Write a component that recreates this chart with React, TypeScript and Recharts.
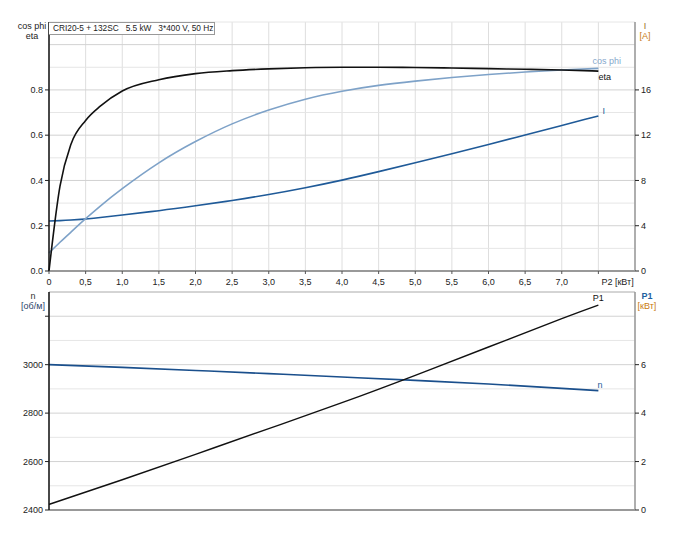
import React from 'react';
import { LineChart, Line, XAxis, YAxis, CartesianGrid, ReferenceLine, ReferenceDot } from 'recharts';

// P2 [kW] sample points, upper chart
const p2Top = [0, 0.15, 0.3, 0.5, 0.7, 1.0, 1.5, 2.0, 2.5, 3.0, 3.5, 4.0, 4.5, 5.0, 5.5, 6.0, 6.5, 7.0, 7.5];
const eta = [0, 0.375, 0.56, 0.665, 0.728, 0.795, 0.845, 0.872, 0.885, 0.893, 0.898, 0.9, 0.9, 0.899, 0.897, 0.894, 0.891, 0.888, 0.883];
const cosPhi = [0.08, 0.127, 0.172, 0.231, 0.287, 0.364, 0.478, 0.572, 0.65, 0.711, 0.759, 0.794, 0.82, 0.839, 0.855, 0.868, 0.879, 0.888, 0.895];
const current = [4.42, 4.45, 4.5, 4.6, 4.72, 4.95, 5.33, 5.76, 6.23, 6.76, 7.36, 8.03, 8.78, 9.56, 10.36, 11.18, 12.02, 12.86, 13.7];

// lower chart
const p2Bottom = [0, 1, 2, 3, 4, 5, 6, 7, 7.5];
const speed = [3000, 2989, 2976, 2963, 2949, 2935, 2920, 2902, 2893];
const p1 = [0.23, 1.25, 2.3, 3.36, 4.43, 5.56, 6.73, 7.9, 8.46];

const xTicksTop = [0, 0.5, 1, 1.5, 2, 2.5, 3, 3.5, 4, 4.5, 5, 5.5, 6, 6.5, 7, 7.5];
const xTickLabels = ['0', '0,5', '1,0', '1,5', '2,0', '2,5', '3,0', '3,5', '4,0', '4,5', '5,0', '5,5', '6,0', '6,5', '7,0', 'P2 [кВт]'];
const xTicksBottom = [0, 1, 2, 3, 4, 5, 6, 7];
const effTicks = [0, 0.2, 0.4, 0.6, 0.8];
const effGrid = [0.1, 0.2, 0.3, 0.4, 0.5, 0.6, 0.7, 0.8, 0.9, 1.0, 1.1];
const currentTicks = [0, 4, 8, 12, 16];
const speedTicks = [2400, 2600, 2800, 3000, 3200];
const speedGrid = [2500, 2600, 2700, 2800, 2900, 3000, 3100, 3200, 3300];
const p1Ticks = [0, 2, 4, 6];

const FONT = '"Liberation Sans", Arial, sans-serif';
const TXT = '#222';

const topData = p2Top.map((x, i) => ({ x, eta: eta[i], cosPhi: cosPhi[i], current: current[i] }));
const bottomData = p2Bottom.map((x, i) => ({ x, speed: speed[i], p1: p1[i] }));

const XTick = (props: any) => {
  const { x, y, payload, index } = props;
  const last = index === xTicksTop.length - 1;
  return (
    <text x={last ? x + 3 : x} y={y + 9} textAnchor={last ? 'start' : 'middle'} fontSize={9} fill={TXT} fontFamily={FONT}>
      {xTickLabels[xTicksTop.indexOf(payload.value)]}
    </text>
  );
};

const endLabel = (text: string, color: string, dx: number, dy: number, anchor = 'start') => (props: any) => {
  const vb = props.viewBox || {};
  const cx = (vb.x ?? 0) + (vb.width ?? 0) / 2;
  const cy = (vb.y ?? 0) + (vb.height ?? 0) / 2;
  return (
    <text x={cx + dx} y={cy + dy} fontSize={9} fill={color} fontFamily={FONT} textAnchor={anchor}>
      {text}
    </text>
  );
};

const last = (a: number[]) => a[a.length - 1];

export default function App() {
  return (
    <div style={{ position: 'absolute', left: 0, top: 0, width: 677, height: 542, background: '#fff', fontFamily: FONT }}>
      <LineChart width={677} height={290} data={topData} margin={{ top: 22, right: 12, bottom: 0, left: 19 }}>
        <CartesianGrid horizontal={false} stroke="#dedede" />
        {effGrid.map((v) => (
          <ReferenceLine key={v} yAxisId="eff" y={v} stroke={Math.round(v * 10) % 2 === 0 ? '#d2d2d2' : '#e6e6e6'} />
        ))}
        <XAxis
          dataKey="x"
          type="number"
          domain={[0, 8]}
          ticks={xTicksTop}
          interval={0}
          height={19}
          tick={<XTick />}
          tickSize={3}
          tickLine={{ stroke: '#555' }}
          axisLine={{ stroke: '#999', strokeWidth: 2 }}
        />
        <YAxis
          yAxisId="eff"
          domain={[0, 1.1]}
          ticks={effTicks}
          width={30}
          tickSize={4}
          tickFormatter={(v: number) => v.toFixed(1)}
          tick={{ fontSize: 9, fill: TXT, fontFamily: FONT }}
          tickLine={{ stroke: '#222' }}
          axisLine={{ stroke: '#111', strokeWidth: 1.5 }}
        />
        <YAxis
          yAxisId="cur"
          orientation="right"
          domain={[0, 22]}
          ticks={currentTicks}
          width={30}
          tickSize={4}
          tick={{ fontSize: 9, fill: TXT, fontFamily: FONT, textAnchor: 'start' }}
          tickLine={{ stroke: '#222' }}
          axisLine={{ stroke: '#999', strokeWidth: 1.5 }}
        />
        <Line yAxisId="cur" dataKey="current" type="natural" stroke="#1f5a98" strokeWidth={1.6} dot={false} isAnimationActive={false} />
        <Line yAxisId="eff" dataKey="cosPhi" type="natural" stroke="#7ea2c8" strokeWidth={1.6} dot={false} isAnimationActive={false} />
        <Line yAxisId="eff" dataKey="eta" type="monotone" stroke="#111" strokeWidth={1.6} dot={false} isAnimationActive={false} />
        <ReferenceDot yAxisId="eff" x={last(p2Top)} y={last(cosPhi)} r={0} fill="none" stroke="none" label={endLabel('cos phi', '#86a8cc', -6, -4)} />
        <ReferenceDot yAxisId="eff" x={last(p2Top)} y={last(eta)} r={0} fill="none" stroke="none" label={endLabel('eta', '#111', 0, 9)} />
        <ReferenceDot yAxisId="cur" x={last(p2Top)} y={last(current)} r={0} fill="none" stroke="none" label={endLabel('I', '#2a5c9a', 4, -2)} />
      </LineChart>

      <div style={{ position: 'absolute', left: 0, top: 290 }}>
        <LineChart width={677} height={230} data={bottomData} margin={{ top: 2, right: 12, bottom: 9, left: 19 }}>
          <CartesianGrid horizontal={false} stroke="#dedede" />
          {speedGrid.map((v) => (
            <ReferenceLine key={v} yAxisId="n" y={v} stroke={v === 3300 ? '#aaa' : v % 200 === 0 ? '#d2d2d2' : '#e6e6e6'} />
          ))}
          <XAxis
            dataKey="x"
            type="number"
            domain={[0, 8]}
            ticks={xTicksBottom}
            interval={0}
            height={1}
            tick={false}
            tickLine={false}
            axisLine={{ stroke: '#999', strokeWidth: 2 }}
          />
          <YAxis
            yAxisId="n"
            domain={[2400, 3300]}
            ticks={speedTicks}
            width={30}
            tickSize={4}
            tickFormatter={(v: number) => (v === 3200 ? '' : String(v))}
            tick={{ fontSize: 9, fill: TXT, fontFamily: FONT }}
            tickLine={{ stroke: '#222' }}
            axisLine={{ stroke: '#111', strokeWidth: 1.5 }}
          />
          <YAxis
            yAxisId="p1"
            orientation="right"
            domain={[0, 9]}
            ticks={p1Ticks}
            width={30}
            tickSize={4}
            tick={{ fontSize: 9, fill: TXT, fontFamily: FONT, textAnchor: 'start' }}
            tickLine={{ stroke: '#222' }}
            axisLine={{ stroke: '#999', strokeWidth: 1.5 }}
          />
          <Line yAxisId="n" dataKey="speed" type="natural" stroke="#1a4f8c" strokeWidth={1.6} dot={false} isAnimationActive={false} />
          <Line yAxisId="p1" dataKey="p1" type="natural" stroke="#111" strokeWidth={1.4} dot={false} isAnimationActive={false} />
          <ReferenceDot yAxisId="p1" x={last(p2Bottom)} y={last(p1)} r={0} fill="none" stroke="none" label={endLabel('P1', '#111', 0, -4, 'middle')} />
          <ReferenceDot yAxisId="n" x={last(p2Bottom)} y={last(speed)} r={0} fill="none" stroke="none" label={endLabel('n', '#2a5c9a', -1, -3)} />
        </LineChart>
      </div>

      {/* header box */}
      <div
        style={{
          position: 'absolute', left: 49, top: 22, width: 166, height: 13, boxSizing: 'border-box',
          border: '1px solid #999', borderLeft: 'none', background: '#fff', fontSize: 8.3, lineHeight: '11px',
          paddingLeft: 4, color: TXT, whiteSpace: 'pre',
        }}
      >
        CRI20-5 + 132SC   5.5 kW   3*400 V, 50 Hz
      </div>

      {/* axis titles */}
      <div style={{ position: 'absolute', left: 12, top: 21, width: 40, textAlign: 'center', fontSize: 9, lineHeight: '10px', color: TXT }}>
        cos phi<br />eta
      </div>
      <div style={{ position: 'absolute', left: 631, top: 21, width: 28, textAlign: 'center', fontSize: 9, lineHeight: '10px' }}>
        <span style={{ color: '#9a6a1a' }}>I</span><br /><span style={{ color: '#c87a10' }}>[A]</span>
      </div>
      <div style={{ position: 'absolute', left: 13, top: 291, width: 40, textAlign: 'center', fontSize: 9, lineHeight: '10px', color: '#333' }}>
        n<br /><span style={{ color: '#2a3f6a' }}>[об/м]</span>
      </div>
      <div style={{ position: 'absolute', left: 633, top: 291, width: 28, textAlign: 'center', fontSize: 9, lineHeight: '10px' }}>
        <span style={{ color: '#1f5fa0', fontWeight: 'bold' }}>P1</span><br /><span style={{ color: '#c87a10' }}>[кВт]</span>
      </div>
    </div>
  );
}
